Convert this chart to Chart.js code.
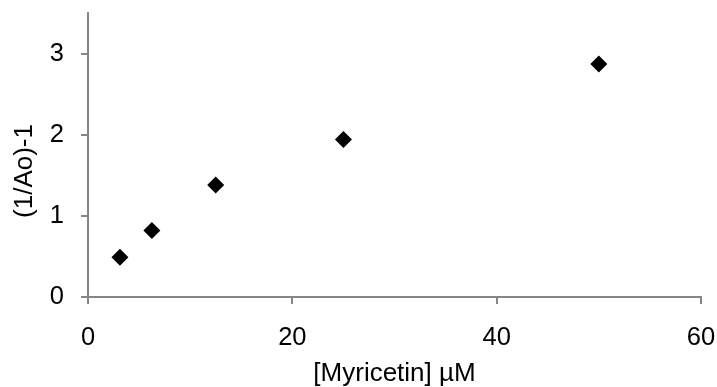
<!DOCTYPE html>
<html>
<head>
<meta charset="utf-8">
<script src="https://cdn.jsdelivr.net/npm/chart.js@4/dist/chart.umd.min.js"></script>
<style>
html,body{margin:0;padding:0;background:#fff;}
#wrap{width:717px;height:387px;}
</style>
</head>
<body>
<div id="wrap"><canvas id="c" width="717" height="387"></canvas></div>
<script>
const concentrations = [3.125, 6.25, 12.5, 25, 50];
const invAMinusOne = [0.49, 0.82, 1.38, 1.94, 2.87];
const xTicks = [0, 20, 40, 60];
const yTicks = [0, 1, 2, 3];
const xTitle = '[Myricetin] µM';
const yTitle = '(1/Ao)-1';

const FONT = 'Liberation Sans, Arial, sans-serif';
const TICK_SIZE = 25.5;
const TITLE_SIZE = 26;
const AXIS = '#868686';

function noPad(s) { s.paddingTop = 0; s.paddingBottom = 0; s.paddingLeft = 0; s.paddingRight = 0; }

const yTitlePlugin = {
  id: 'yTitle',
  afterDraw(chart) {
    const ctx = chart.ctx, a = chart.chartArea;
    ctx.save();
    ctx.translate(25, (a.top + a.bottom) / 2 + 16);
    ctx.rotate(-Math.PI / 2);
    ctx.font = TITLE_SIZE + 'px ' + FONT;
    ctx.fillStyle = '#000';
    ctx.textAlign = 'center';
    ctx.textBaseline = 'middle';
    ctx.fillText(yTitle, 0, 0);
    ctx.restore();
  }
};

new Chart(document.getElementById('c'), {
  type: 'scatter',
  data: {
    datasets: [{
      data: concentrations.map((x, i) => ({x: x, y: invAMinusOne[i]})),
      pointStyle: 'rectRot',
      radius: 8.5,
      hoverRadius: 8.5,
      backgroundColor: '#000',
      borderColor: '#000',
      borderWidth: 0
    }]
  },
  plugins: [yTitlePlugin],
  options: {
    responsive: false,
    animation: false,
    events: [],
    layout: {padding: {top: 13, right: 16, left: 0, bottom: 0}},
    plugins: {legend: {display: false}, tooltip: {enabled: false}},
    scales: {
      x: {
        type: 'linear', min: 0, max: 60,
        afterBuildTicks: s => { s.ticks = xTicks.map(v => ({value: v})); },
        afterFit: s => { s.height = 90; noPad(s); },
        border: {color: AXIS, width: 2},
        grid: {drawOnChartArea: false, drawTicks: true, tickLength: 7, color: AXIS, lineWidth: 2},
        ticks: {color: '#000', font: {family: FONT, size: TICK_SIZE}, padding: 19, maxRotation: 0},
        title: {display: true, text: xTitle, color: '#000', font: {family: FONT, size: TITLE_SIZE}, padding: {top: 0, bottom: -2}}
      },
      y: {
        type: 'linear', min: 0, max: 3.5,
        afterBuildTicks: s => { s.ticks = yTicks.map(v => ({value: v})); },
        afterFit: s => { s.width = 88; noPad(s); },
        border: {color: AXIS, width: 2},
        grid: {drawOnChartArea: false, drawTicks: true, tickLength: 7, color: AXIS, lineWidth: 2},
        ticks: {color: '#000', font: {family: FONT, size: TICK_SIZE}, padding: 17},
        title: {display: false}
      }
    }
  }
});
</script>
</body>
</html>
